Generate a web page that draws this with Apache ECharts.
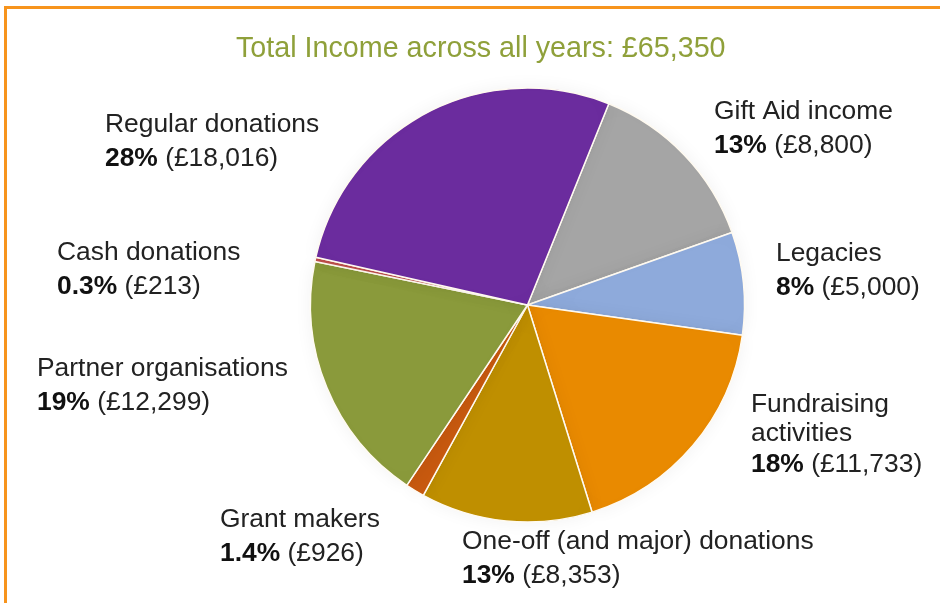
<!DOCTYPE html>
<html><head><meta charset="utf-8">
<script src="https://cdn.jsdelivr.net/npm/echarts@6/dist/echarts.min.js"></script>
<style>
html,body{margin:0;padding:0;background:#fff;}
#frame{position:absolute;left:4px;top:6px;width:940px;height:600px;border-top:3px solid #f7941d;border-left:3px solid #f7941d;}
#chart{position:absolute;left:0;top:0;width:940px;height:603px;}
</style></head>
<body>
<div id="frame"></div>
<div id="chart"></div>
<script>
const titleText = 'Total Income across all years: £65,350';
const categories = ['Gift Aid income','Legacies','Fundraising\nactivities','One-off (and major) donations','Grant makers','Partner organisations','Cash donations','Regular donations'];
const values = [8800, 5000, 11733, 8353, 926, 12299, 213, 18016];
const percentLabels = ['13%','8%','18%','13%','1.4%','19%','0.3%','28%'];
const valueLabels = ['£8,800','£5,000','£11,733','£8,353','£926','£12,299','£213','£18,016'];
const colors = ['#a5a5a5','#8eaadb','#e98a00','#bf8f00','#c85a10','#8a9a3b','#c0504d','#6b2c9e'];
const labelPos = [[714,95],[776,237],[751,390],[462,525],[220,503],[37,352],[57,236],[105,108]];

const chart = echarts.init(document.getElementById('chart'), null, {renderer:'canvas'});
const font = "'Liberation Sans', Arial, sans-serif";
chart.setOption({
  backgroundColor: 'transparent',
  title: {text: titleText, left: 231, top: 30,
    textStyle: {color:'#8fa03a', fontSize: 28.7, fontWeight: 'normal', fontFamily: font}},
  series: [{
    type: 'pie',
    center: [527.5, 305],
    radius: 217,
    startAngle: 68,
    clockwise: true,
    silent: true,
    animation: false,
    itemStyle: {borderColor:'#fffaf0', borderWidth: 1.5, shadowBlur: 18, shadowColor: 'rgba(0,0,0,0.06)'},
    labelLine: {show: false},
    label: {
      show: true, position: 'outside', overflow: 'none',
      formatter: p => {
        const i = p.dataIndex;
        const nameStyle = i === 2 ? 'nf' : 'n';
        const nm = p.name.split('\n').map(s => '{' + nameStyle + '|' + s + '}').join('\n');
        return nm + '\n{b|' + percentLabels[i] + '}{v| (' + valueLabels[i] + ')}';
      },
      rich: {
        n: {fontSize: 26.4, lineHeight: 34, color:'#222', fontFamily: font},
        nf: {fontSize: 26.4, lineHeight: 29, color:'#222', fontFamily: font},
        b: {fontSize: 26.4, lineHeight: 34, color:'#111', fontWeight:'bold', fontFamily: font},
        v: {fontSize: 26.4, lineHeight: 34, color:'#222', fontFamily: font}
      }
    },
    labelLayout: p => ({x: labelPos[p.dataIndex][0], y: labelPos[p.dataIndex][1], align:'left', verticalAlign:'top', width: 400}),
    data: categories.map((c, i) => ({name: c, value: values[i], itemStyle: {color: colors[i]}}))
  }]
});
</script>
</body></html>
